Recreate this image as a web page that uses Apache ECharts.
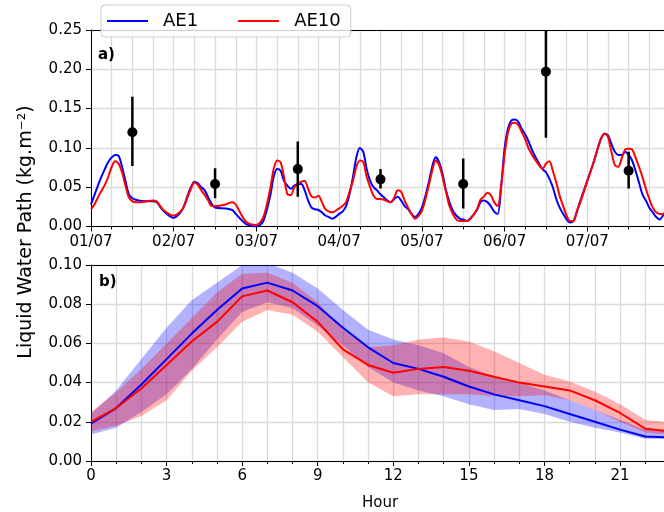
<!DOCTYPE html>
<html><head><meta charset="utf-8">
<script src="https://cdn.jsdelivr.net/npm/echarts@6/dist/echarts.min.js"></script>
<style>html,body{margin:0;padding:0;background:#fff}#c{width:664px;height:512px}</style>
</head><body><div id="c"></div>
<script>
const dayLabels = ['01/07','02/07','03/07','04/07','05/07','06/07','07/07','08/07'];
const tsHours = [0,1,2,3,4,5,6,7,8,9,10,11,12,13,14,16,18,19,21,24,26,27,28,29,30,31,32,33,34,35,36,39,41,42,45,48,50,52,53,54,55,56,57,58,59,60,61,62,63,64,65,66,67,68,69,70,72,73,74,75,76,77,78,79,80,81,82,83,84,85,86,87,88,89,90,91,92,93,94,96,98,99,100,101,102,103,104,105,106,107,108,109,110,112,113,114,115,116,117,118,119,120,121,122,123,124,125,126,127,128,129,130,131,132,133,134,135,136,137,138,139,140,141,142,144,146,147,148,149,150,151,152,153,154,155,156,157,158,159,160,161,162,163,164,165,166,167,168];
const ae1Lwp = [0.028,0.040,0.052,0.063,0.073,0.082,0.088,0.091,0.090,0.076,0.058,0.041,0.036,0.034,0.033,0.032,0.032,0.031,0.020,0.011,0.018,0.026,0.039,0.050,0.057,0.055,0.050,0.046,0.037,0.029,0.024,0.023,0.021,0.016,0.003,0.000,0.007,0.039,0.063,0.073,0.071,0.058,0.052,0.048,0.052,0.054,0.054,0.046,0.033,0.024,0.022,0.021,0.018,0.014,0.012,0.010,0.016,0.019,0.026,0.041,0.063,0.088,0.100,0.095,0.073,0.058,0.050,0.046,0.041,0.037,0.033,0.031,0.035,0.038,0.033,0.026,0.022,0.016,0.012,0.024,0.056,0.076,0.088,0.082,0.067,0.046,0.031,0.020,0.014,0.010,0.009,0.007,0.010,0.021,0.031,0.033,0.031,0.026,0.019,0.016,0.050,0.099,0.125,0.135,0.136,0.133,0.124,0.117,0.108,0.097,0.088,0.080,0.073,0.069,0.061,0.050,0.035,0.024,0.016,0.009,0.005,0.007,0.019,0.033,0.058,0.084,0.099,0.112,0.118,0.116,0.105,0.095,0.091,0.091,0.095,0.091,0.084,0.071,0.056,0.041,0.033,0.024,0.018,0.012,0.009,0.014,0.020,0.025];
const ae10Lwp = [0.022,0.028,0.037,0.045,0.053,0.063,0.076,0.083,0.080,0.069,0.052,0.037,0.032,0.031,0.031,0.032,0.033,0.032,0.021,0.014,0.019,0.026,0.037,0.048,0.056,0.053,0.046,0.040,0.033,0.026,0.026,0.028,0.031,0.028,0.006,0.002,0.012,0.048,0.073,0.084,0.082,0.063,0.041,0.040,0.050,0.054,0.057,0.058,0.048,0.038,0.037,0.039,0.031,0.022,0.019,0.018,0.023,0.026,0.031,0.044,0.058,0.076,0.084,0.082,0.063,0.050,0.039,0.035,0.035,0.034,0.032,0.031,0.037,0.046,0.044,0.033,0.024,0.016,0.010,0.020,0.052,0.071,0.084,0.078,0.063,0.044,0.026,0.016,0.009,0.007,0.007,0.007,0.009,0.022,0.034,0.038,0.043,0.040,0.031,0.026,0.052,0.091,0.120,0.131,0.132,0.129,0.120,0.111,0.099,0.091,0.084,0.078,0.073,0.080,0.083,0.071,0.056,0.039,0.026,0.014,0.007,0.007,0.020,0.031,0.058,0.084,0.099,0.112,0.118,0.114,0.095,0.078,0.076,0.087,0.098,0.099,0.098,0.088,0.076,0.063,0.048,0.035,0.024,0.018,0.016,0.016,0.021,0.026];
const obsHours = [12,36,60,84,108,132,156];
const obsMean = [0.120,0.054,0.073,0.060,0.054,0.197,0.071];
const obsLow = [0.077,0.036,0.038,0.0485,0.023,0.113,0.0485];
const obsHigh = [0.165,0.074,0.108,0.073,0.0865,0.281,0.095];

const diurnalHours = [0,1,2,3,4,5,6,7,8,9,10,11,12,13,14,15,16,17,18,19,20,21,22,23];
const ae1Mean = [0.019,0.027,0.039,0.052,0.065,0.077,0.088,0.091,0.087,0.079,0.068,0.058,0.050,0.047,0.043,0.038,0.034,0.031,0.028,0.024,0.020,0.016,0.0125,0.012];
const ae1Lower = [0.0135,0.017,0.025,0.034,0.047,0.062,0.076,0.081,0.078,0.069,0.059,0.048,0.040,0.036,0.033,0.029,0.026,0.0265,0.024,0.020,0.017,0.0145,0.0114,0.0114];
const ae1Upper = [0.024,0.036,0.052,0.068,0.082,0.091,0.100,0.101,0.096,0.088,0.077,0.067,0.062,0.059,0.055,0.048,0.043,0.040,0.036,0.031,0.026,0.021,0.016,0.015];
const ae10Mean = [0.020,0.027,0.037,0.049,0.061,0.071,0.084,0.087,0.081,0.071,0.057,0.049,0.045,0.047,0.048,0.046,0.043,0.040,0.038,0.036,0.031,0.0245,0.0165,0.015];
const ae10Lower = [0.015,0.018,0.023,0.031,0.046,0.058,0.071,0.077,0.0746,0.066,0.053,0.040,0.033,0.034,0.034,0.034,0.033,0.033,0.0335,0.031,0.026,0.020,0.0145,0.0135];
const ae10Upper = [0.025,0.035,0.047,0.060,0.073,0.086,0.0955,0.096,0.091,0.081,0.067,0.058,0.059,0.062,0.063,0.061,0.056,0.050,0.044,0.0405,0.0355,0.029,0.021,0.0195];

const FONT = 'DejaVu Sans';
const GRID_C = '#dadada';
const pairs = (xs, ys) => xs.map((x, i) => [x, ys[i]]);

function xAxisBase(grid, max, interval, minorSplit, labelFn) {
  return {
    type: 'value', gridIndex: grid, min: 0, max: max, interval: interval, position: 'bottom',
    axisLine: { show: true, onZero: false, lineStyle: { color: '#000', width: 1 } },
    axisTick: { show: true, length: 5, lineStyle: { color: '#000', width: 1 } },
    minorTick: { show: true, splitNumber: minorSplit, length: 3, lineStyle: { color: '#000', width: 1 } },
    splitLine: { show: true, lineStyle: { color: GRID_C, width: 1.3 } },
    minorSplitLine: { show: true, lineStyle: { color: GRID_C, width: 1.3 } },
    axisLabel: { show: true, margin: 8, color: '#000', fontFamily: FONT, fontSize: 15, showMaxLabel: false, formatter: labelFn }
  };
}
function topFrame(grid, max) {
  return {
    type: 'value', gridIndex: grid, min: 0, max: max, position: 'top',
    axisLine: { show: true, onZero: false, lineStyle: { color: '#000', width: 1 } },
    axisTick: { show: false }, axisLabel: { show: false }, splitLine: { show: false }
  };
}
function yAxisBase(grid, max, interval) {
  return {
    type: 'value', gridIndex: grid, min: 0, max: max, interval: interval,
    axisLine: { show: true, lineStyle: { color: '#000', width: 1 } },
    axisTick: { show: true, length: 5, lineStyle: { color: '#000', width: 1 } },
    splitLine: { show: true, lineStyle: { color: GRID_C, width: 1.3 } },
    axisLabel: { margin: 9, color: '#000', fontFamily: FONT, fontSize: 15, formatter: v => v.toFixed(2) }
  };
}
function bandSeries(name, lower, upper, fill) {
  return {
    name: name, type: 'custom', xAxisIndex: 2, yAxisIndex: 1, clip: true, z: 1, silent: true,
    data: diurnalHours.map((h, i) => [h, lower[i], upper[i]]),
    encode: { x: 0, y: [1, 2] },
    renderItem: (params, api) => {
      if (params.dataIndex !== 0) return null;
      const pts = [];
      for (let i = 0; i < diurnalHours.length; i++) pts.push(api.coord([diurnalHours[i], upper[i]]));
      for (let i = diurnalHours.length - 1; i >= 0; i--) pts.push(api.coord([diurnalHours[i], lower[i]]));
      return { type: 'polygon', shape: { points: pts }, style: { fill: fill, stroke: null } };
    }
  };
}

const option = {
  animation: false,
  backgroundColor: '#fff',
  grid: [
    { left: 91, top: 30, width: 579, height: 196.5, outerBoundsMode: 'none', containLabel: false },
    { left: 91, top: 265, width: 604.6, height: 196, outerBoundsMode: 'none', containLabel: false }
  ],
  xAxis: [
    xAxisBase(0, 168, 24, 4, v => dayLabels[Math.round(v / 24)]),
    topFrame(0, 168),
    xAxisBase(1, 24, 3, 3, v => String(v)),
    topFrame(1, 24)
  ],
  yAxis: [ yAxisBase(0, 0.25, 0.05), yAxisBase(1, 0.10, 0.02) ],
  legend: {
    left: 101, top: 5, orient: 'horizontal',
    data: [{ name: 'AE1', icon: 'rect' }, { name: 'AE10', icon: 'rect' }],
    itemWidth: 41, itemHeight: 2, itemGap: 40,
    padding: [7, 10, 7, 6],
    backgroundColor: 'rgba(255,255,255,0.8)', borderColor: '#cccccc', borderWidth: 1, borderRadius: 4,
    textStyle: { fontFamily: FONT, fontSize: 18, color: '#000', padding: [0, 0, 0, 10] },
    z: 10
  },
  graphic: [
    { type: 'text', x: 98, y: 55, style: { text: 'a)', fontFamily: FONT, fontSize: 15, fontWeight: 'bold', fill: '#000', verticalAlign: 'middle' }, z: 20 },
    { type: 'text', x: 99, y: 282, style: { text: 'b)', fontFamily: FONT, fontSize: 15, fontWeight: 'bold', fill: '#000', verticalAlign: 'middle' }, z: 20 },
    { type: 'text', x: 26, y: 232, rotation: Math.PI / 2, style: { text: 'Liquid Water Path (kg.m⁻²)', fontFamily: FONT, fontSize: 19, fill: '#000', align: 'center', verticalAlign: 'middle' } },
    { type: 'text', x: 380, y: 503, style: { text: 'Hour', fontFamily: FONT, fontSize: 15, fill: '#000', align: 'center', verticalAlign: 'middle' } }
  ],
  series: [
    { name: 'AE1', type: 'line', xAxisIndex: 0, yAxisIndex: 0, data: pairs(tsHours, ae1Lwp), showSymbol: false, symbol: 'none', smooth: 0.3, color: '#0000ff', lineStyle: { width: 2, color: '#0000ff' }, z: 3 },
    { name: 'AE10', type: 'line', xAxisIndex: 0, yAxisIndex: 0, data: pairs(tsHours, ae10Lwp), showSymbol: false, symbol: 'none', smooth: 0.3, color: '#ff0000', lineStyle: { width: 2, color: '#ff0000' }, z: 3 },
    { name: 'obsBar', type: 'custom', xAxisIndex: 0, yAxisIndex: 0, clip: true, z: 4,
      data: obsHours.map((h, i) => [h, obsLow[i], obsHigh[i]]),
      encode: { x: 0, y: [1, 2] },
      renderItem: (params, api) => {
        const p1 = api.coord([api.value(0), api.value(1)]);
        const p2 = api.coord([api.value(0), api.value(2)]);
        return { type: 'line', shape: { x1: p1[0], y1: p1[1], x2: p2[0], y2: p2[1] }, style: { stroke: '#000', lineWidth: 2.5 } };
      } },
    { name: 'obs', type: 'scatter', xAxisIndex: 0, yAxisIndex: 0, data: pairs(obsHours, obsMean), symbol: 'circle', symbolSize: 10, itemStyle: { color: '#000', opacity: 1 }, z: 5 },
    bandSeries('ae1Band', ae1Lower, ae1Upper, 'rgba(0,0,255,0.3)'),
    bandSeries('ae10Band', ae10Lower, ae10Upper, 'rgba(255,0,0,0.3)'),
    { name: 'AE1', type: 'line', xAxisIndex: 2, yAxisIndex: 1, data: pairs(diurnalHours, ae1Mean), showSymbol: false, symbol: 'none', color: '#0000ff', lineStyle: { width: 2, color: '#0000ff' }, z: 3 },
    { name: 'AE10', type: 'line', xAxisIndex: 2, yAxisIndex: 1, data: pairs(diurnalHours, ae10Mean), showSymbol: false, symbol: 'none', color: '#ff0000', lineStyle: { width: 2, color: '#ff0000' }, z: 3 }
  ]
};
const chart = echarts.init(document.getElementById('c'), null, { renderer: 'canvas' });
chart.setOption(option);
</script>
</body></html>
